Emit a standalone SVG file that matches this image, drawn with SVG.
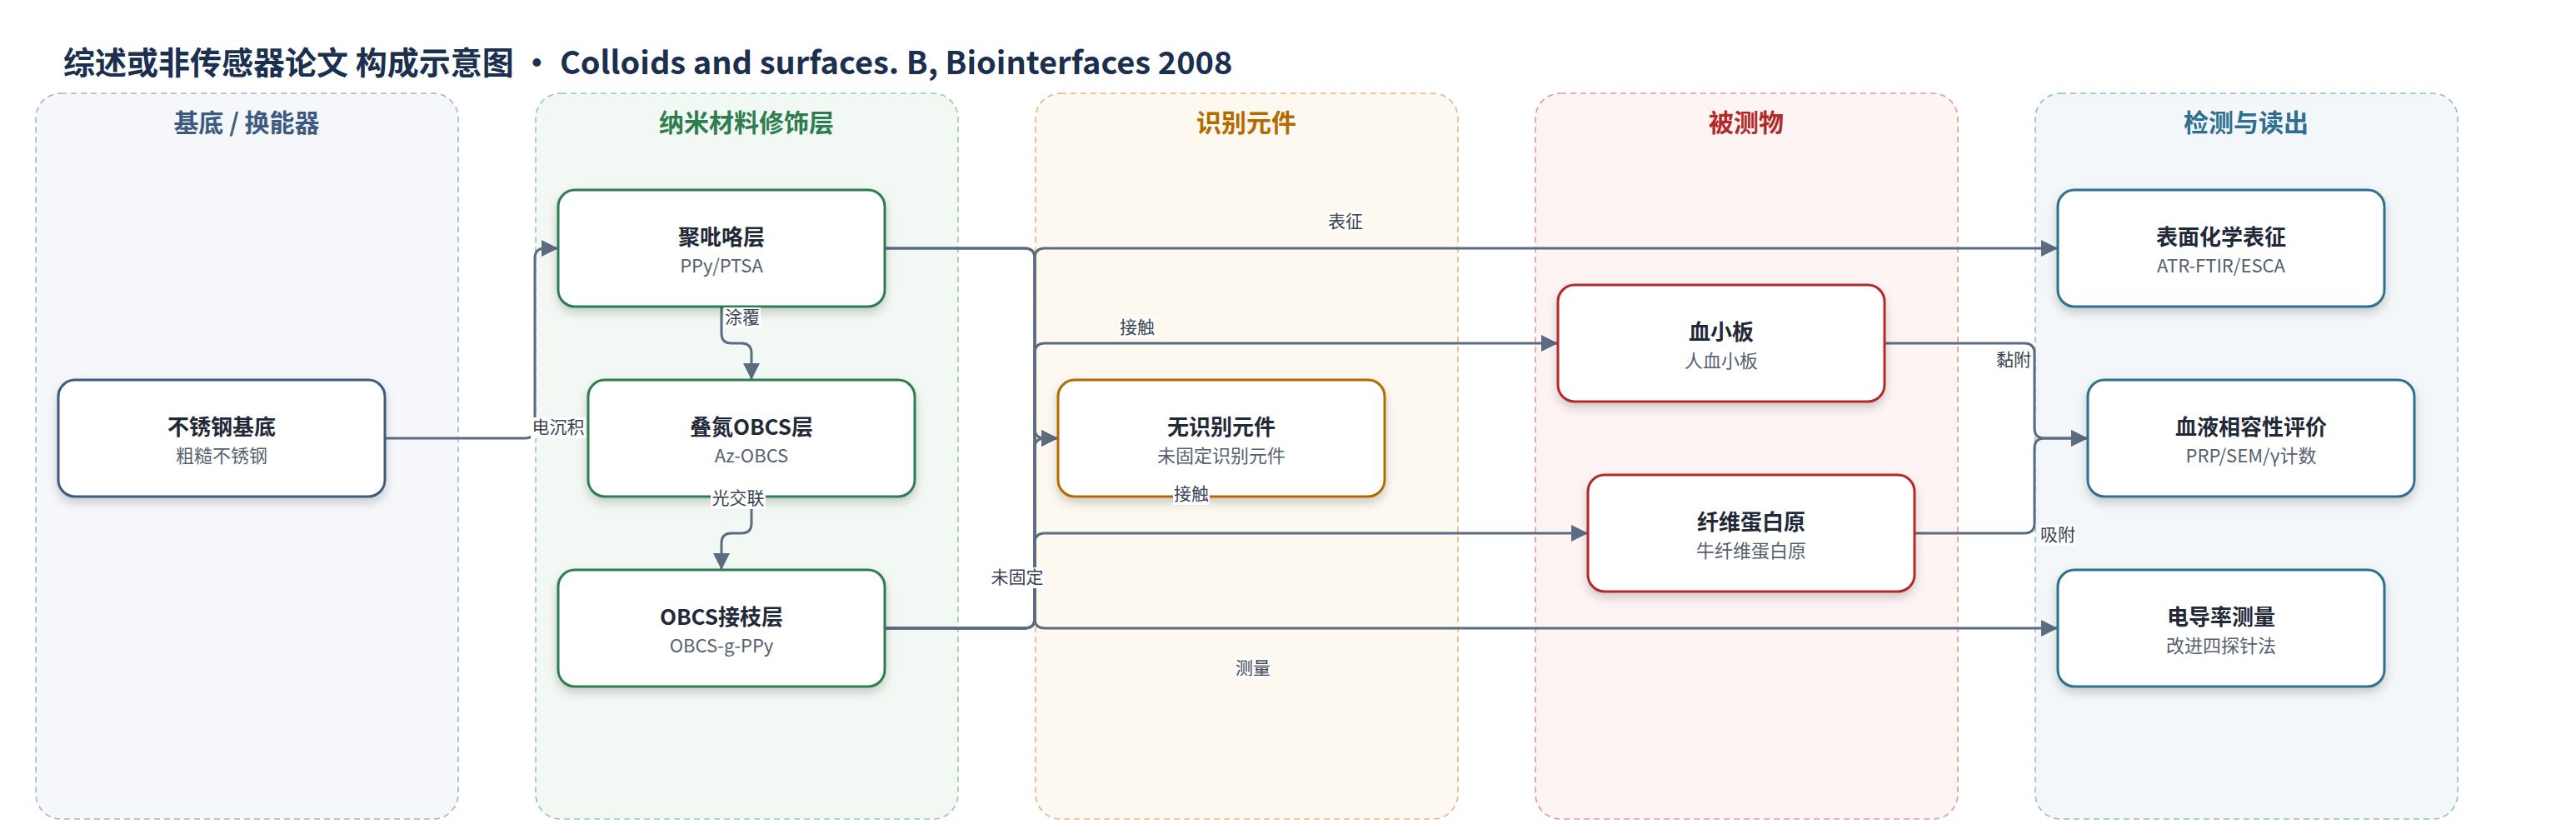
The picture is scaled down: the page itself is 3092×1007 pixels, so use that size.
<svg xmlns="http://www.w3.org/2000/svg" width="3092" height="1007" viewBox="0 0 3092 1007">
<defs>
<style>
text{font-family:"Noto Sans CJK SC","Noto Sans",sans-serif}
.ttl{font-size:38px;font-weight:700;fill:#1b2f4e}
.lane{stroke-width:1.6;stroke-dasharray:7 5}
.lt{font-size:30px;font-weight:700;text-anchor:middle}
.node{fill:#fff;stroke-width:3;filter:url(#sh)}
.nt{font-size:26px;font-weight:700;fill:#1f2937;text-anchor:middle}
.ns{font-size:22px;fill:#555f6e;text-anchor:middle}
.edge{fill:none;stroke:#5b6b80;stroke-width:3}
.arr{marker-end:url(#ah)}
.lb{font-size:21px;fill:#3a4352;text-anchor:middle}
.lbg{fill:#fff}
</style>
<filter id="sh" x="-10%" y="-10%" width="120%" height="140%">
<feDropShadow dx="0" dy="6" stdDeviation="6" flood-color="#000" flood-opacity="0.18"/>
</filter>
<marker id="ah" markerUnits="userSpaceOnUse" markerWidth="20" markerHeight="20" refX="20" refY="10" orient="auto">
<path d="M0,0 L20,10 L0,20 z" fill="#5b6b80"/>
</marker>
</defs>
<rect width="3092" height="1007" fill="#fff"/>
<text class="ttl" x="76" y="89">综述或非传感器论文 构成示意图 • Colloids and surfaces. B, Biointerfaces 2008</text>

<g id="lane-substrate">
<rect class="lane" x="43" y="112" width="507" height="871" rx="30" fill="#f5f7fb" stroke="#a6b4c8"/>
<text class="lt" x="296" y="158" fill="#3d5a80">基底 / 换能器</text>
</g>
<g id="lane-nano">
<rect class="lane" x="643" y="112" width="507" height="871" rx="30" fill="#f2f8f4" stroke="#9cc7a9"/>
<text class="lt" x="896" y="158" fill="#2e7d4f">纳米材料修饰层</text>
</g>
<g id="lane-recog">
<rect class="lane" x="1243" y="112" width="507" height="871" rx="30" fill="#fdf8f0" stroke="#e2b97a"/>
<text class="lt" x="1496" y="158" fill="#b36b00">识别元件</text>
</g>
<g id="lane-analyte">
<rect class="lane" x="1843" y="112" width="507" height="871" rx="30" fill="#fef4f3" stroke="#e09a9a"/>
<text class="lt" x="2096" y="158" fill="#b22a2a">被测物</text>
</g>
<g id="lane-readout">
<rect class="lane" x="2443" y="112" width="507" height="871" rx="30" fill="#f3f7f9" stroke="#98bccc"/>
<text class="lt" x="2696" y="158" fill="#2f6f8f">检测与读出</text>
</g>

<g id="connectors">
<path class="edge arr" d="M462,526 H630 Q642,526 642,514 V310 Q642,298 654,298 H670"/>
<path class="edge arr" d="M866,368 V400 Q866,412 878,412 H890 Q902,412 902,424 V456"/>
<path class="edge arr" d="M902,596 V628 Q902,640 890,640 H878 Q866,640 866,652 V684"/>
<path class="edge arr" d="M1062,298 H1230 Q1242,298 1242,310 V514 Q1242,526 1254,526 H1270"/>
<path class="edge arr" d="M1062,754 H1230 Q1242,754 1242,742 V538 Q1242,526 1254,526 H1270"/>
<path class="edge arr" d="M1062,754 H1230 Q1242,754 1242,742 V310 Q1242,298 1254,298 H2470"/>
<path class="edge arr" d="M1062,754 H1230 Q1242,754 1242,742 V424 Q1242,412 1254,412 H1870"/>
<path class="edge arr" d="M1062,754 H1230 Q1242,754 1242,742 V652 Q1242,640 1254,640 H1906"/>
<path class="edge arr" d="M1062,298 H1230 Q1242,298 1242,310 V742 Q1242,754 1254,754 H2470"/>
<path class="edge arr" d="M2262,412 H2430 Q2442,412 2442,424 V514 Q2442,526 2454,526 H2506"/>
<path class="edge arr" d="M2298,640 H2430 Q2442,640 2442,628 V538 Q2442,526 2454,526 H2506"/>
</g>

<g id="node-steel">
<rect class="node" x="70" y="456" width="392" height="140" rx="20" stroke="#3d5a80"/>
<text class="nt" x="266" y="522">不锈钢基底</text>
<text class="ns" x="266" y="555">粗糙不锈钢</text>
</g>
<g id="node-ppy">
<rect class="node" x="670" y="228" width="392" height="140" rx="20" stroke="#2e7d4f"/>
<text class="nt" x="866" y="294">聚吡咯层</text>
<text class="ns" x="866" y="327">PPy/PTSA</text>
</g>
<g id="node-azobcs">
<rect class="node" x="706" y="456" width="392" height="140" rx="20" stroke="#2e7d4f"/>
<text class="nt" x="902" y="522">叠氮OBCS层</text>
<text class="ns" x="902" y="555">Az-OBCS</text>
</g>
<g id="node-graft">
<rect class="node" x="670" y="684" width="392" height="140" rx="20" stroke="#2e7d4f"/>
<text class="nt" x="866" y="750">OBCS接枝层</text>
<text class="ns" x="866" y="783">OBCS-g-PPy</text>
</g>
<g id="node-norecog">
<rect class="node" x="1270" y="456" width="392" height="140" rx="20" stroke="#b36b00"/>
<text class="nt" x="1466" y="522">无识别元件</text>
<text class="ns" x="1466" y="555">未固定识别元件</text>
</g>
<g id="node-platelet">
<rect class="node" x="1870" y="342" width="392" height="140" rx="20" stroke="#b22a2a"/>
<text class="nt" x="2066" y="408">血小板</text>
<text class="ns" x="2066" y="441">人血小板</text>
</g>
<g id="node-fibrinogen">
<rect class="node" x="1906" y="570" width="392" height="140" rx="20" stroke="#b22a2a"/>
<text class="nt" x="2102" y="636">纤维蛋白原</text>
<text class="ns" x="2102" y="669">牛纤维蛋白原</text>
</g>
<g id="node-surface">
<rect class="node" x="2470" y="228" width="392" height="140" rx="20" stroke="#2f6f8f"/>
<text class="nt" x="2666" y="294">表面化学表征</text>
<text class="ns" x="2666" y="327">ATR-FTIR/ESCA</text>
</g>
<g id="node-hemo">
<rect class="node" x="2506" y="456" width="392" height="140" rx="20" stroke="#2f6f8f"/>
<text class="nt" x="2702" y="522">血液相容性评价</text>
<text class="ns" x="2702" y="555">PRP/SEM/γ计数</text>
</g>
<g id="node-cond">
<rect class="node" x="2470" y="684" width="392" height="140" rx="20" stroke="#2f6f8f"/>
<text class="nt" x="2666" y="750">电导率测量</text>
<text class="ns" x="2666" y="783">改进四探针法</text>
</g>

<g id="connector-labels">
<rect class="lbg" x="637" y="501" width="66" height="25"/><text class="lb" x="670" y="520">电沉积</text>
<rect class="lbg" x="869" y="369" width="44" height="25"/><text class="lb" x="891" y="388">涂覆</text>
<rect class="lbg" x="853" y="586" width="66" height="25"/><text class="lb" x="886" y="605">光交联</text>
<rect class="lbg" x="1593" y="254" width="44" height="25"/><text class="lb" x="1615" y="273">表征</text>
<rect class="lbg" x="1343" y="381" width="44" height="25"/><text class="lb" x="1365" y="400">接触</text>
<rect class="lbg" x="1408" y="581" width="44" height="25"/><text class="lb" x="1430" y="600">接触</text>
<rect class="lbg" x="1188" y="681" width="66" height="25"/><text class="lb" x="1221" y="700">未固定</text>
<rect class="lbg" x="1482" y="790" width="44" height="25"/><text class="lb" x="1504" y="809">测量</text>
<rect class="lbg" x="2395" y="420" width="44" height="25"/><text class="lb" x="2417" y="439">黏附</text>
<rect class="lbg" x="2448" y="630" width="44" height="25"/><text class="lb" x="2470" y="649">吸附</text>
</g>
</svg>
